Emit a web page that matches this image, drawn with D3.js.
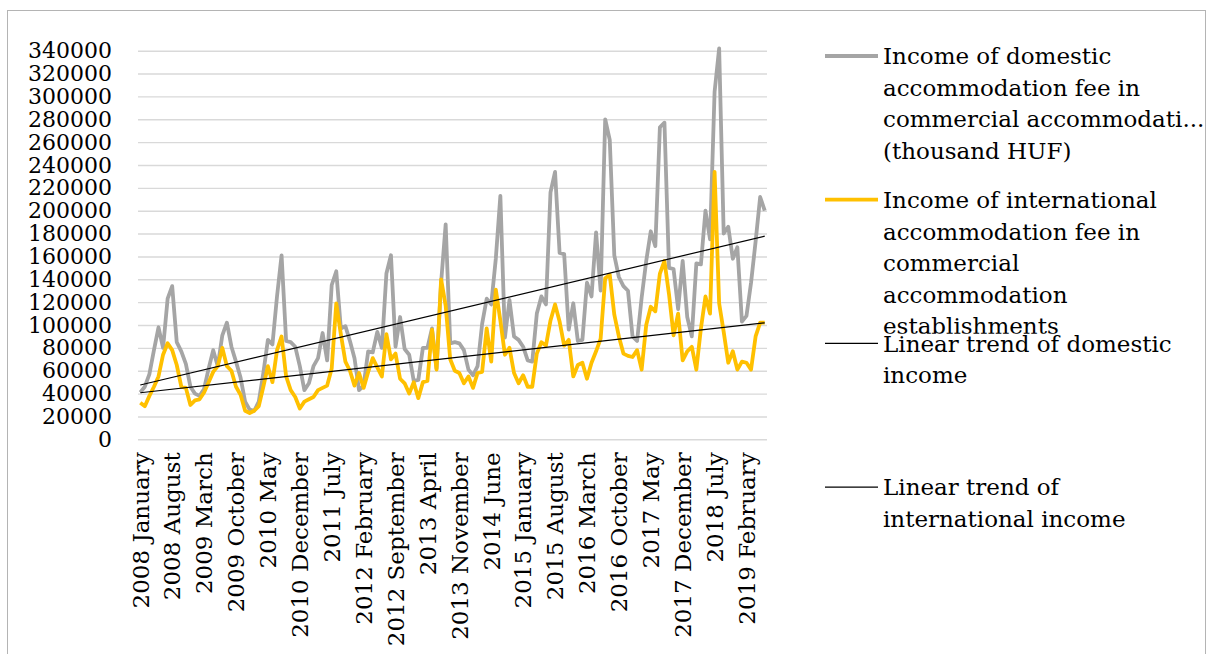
<!DOCTYPE html>
<html>
<head>
<meta charset="utf-8">
<script src="https://cdn.jsdelivr.net/npm/d3@7"></script>
<style>
  html, body { margin: 0; padding: 0; background: #ffffff; }
  svg { display: block; }
  text { font-family: "DejaVu Serif", serif; fill: #000; }
</style>
</head>
<body>
<svg id="chart" width="1214" height="654"></svg>
<script>
// ---- data -------------------------------------------------------------
const years = [2008, 2009, 2010, 2011, 2012, 2013, 2014, 2015, 2016, 2017, 2018, 2019];
const monthNames = ["January", "February", "March", "April", "May", "June",
                    "July", "August", "September", "October", "November", "December"];
const lastMonthCount = 6; // 2019 runs January..June

// monthly categories, "2008 January" .. "2019 June"
const categories = [];
years.forEach((yr, k) => {
  const n = k === years.length - 1 ? lastMonthCount : 12;
  for (let m = 0; m < n; m++) categories.push(yr + " " + monthNames[m]);
});

// Income of domestic accommodation fee (thousand HUF), one value per month
const domestic = [
  41000, 46000, 57000, 78000, 98000, 80000, 123000, 134000, 85000, 77000, 66000, 46000,      // 2008
  40000, 38000, 44000, 62000, 78000, 64000, 91000, 102000, 81000, 68000, 54000, 33000,       // 2009
  26000, 25000, 33000, 58000, 87000, 83000, 125000, 161000, 86000, 85000, 81000, 64000,      // 2010
  43000, 49000, 64000, 71000, 93000, 69000, 135000, 147000, 97000, 99000, 86000, 71000,      // 2011
  43000, 47000, 77000, 76000, 94000, 80000, 145000, 161000, 81000, 107000, 79000, 74000,     // 2012
  51000, 52000, 80000, 80000, 97000, 62000, 137000, 188000, 84000, 85000, 84000, 78000,      // 2013
  61000, 56000, 64000, 101000, 123000, 118000, 158000, 213000, 89000, 122000, 90000, 87000,  // 2014
  81000, 69000, 68000, 110000, 125000, 118000, 216000, 234000, 163000, 162000, 96000, 119000, // 2015
  86000, 87000, 137000, 125000, 181000, 130000, 280000, 262000, 161000, 142000, 134000, 130000, // 2016
  90000, 86000, 124000, 156000, 182000, 169000, 273000, 277000, 150000, 149000, 114000, 156000, // 2017
  107000, 90000, 154000, 153000, 200000, 175000, 304000, 342000, 180000, 186000, 158000, 168000, // 2018
  103000, 108000, 137000, 173000, 212000, 200000                                              // 2019
];

// Income of international accommodation fee (thousand HUF)
const international = [
  32000, 29000, 38000, 46000, 55000, 74000, 84000, 78000, 65000, 46000, 45000, 30000,        // 2008
  34000, 35000, 41000, 50000, 59000, 64000, 80000, 64000, 60000, 46000, 39000, 25000,        // 2009
  23000, 25000, 29000, 46000, 64000, 50000, 78000, 90000, 55000, 43000, 37000, 27000,        // 2010
  33000, 35000, 37000, 43000, 45000, 47000, 62000, 119000, 92000, 68000, 60000, 47000,       // 2011
  58000, 45000, 59000, 71000, 63000, 55000, 92000, 70000, 75000, 53000, 49000, 40000,        // 2012
  50000, 36000, 50000, 51000, 96000, 61000, 140000, 117000, 70000, 60000, 58000, 49000,      // 2013
  55000, 45000, 58000, 59000, 97000, 68000, 131000, 104000, 74000, 80000, 58000, 49000,      // 2014
  56000, 46000, 46000, 75000, 85000, 82000, 104000, 118000, 103000, 82000, 87000, 55000,     // 2015
  65000, 67000, 53000, 67000, 77000, 88000, 141000, 144000, 109000, 90000, 75000, 73000,     // 2016
  72000, 78000, 61000, 100000, 116000, 112000, 145000, 156000, 127000, 91000, 110000, 69000, // 2017
  77000, 81000, 61000, 97000, 125000, 110000, 234000, 119000, 94000, 67000, 77000, 61000,    // 2018
  68000, 67000, 61000, 90000, 102000, 102000                                                 // 2019
];

const yTicks = [0, 20000, 40000, 60000, 80000, 100000, 120000, 140000, 160000,
                180000, 200000, 220000, 240000, 260000, 280000, 300000, 320000, 340000];
const xTickStep = 7; // every 7th month is labelled

const legendItems = [
  { lines: ["Income of domestic", "accommodation fee in", "commercial accommodati...", "(thousand HUF)"],
    color: "#a5a5a5", width: 3.8 },
  { lines: ["Income of international", "accommodation fee in", "commercial", "accommodation", "establishments"],
    color: "#ffc000", width: 3.8 },
  { lines: ["Linear trend of domestic", "income"], color: "#000000", width: 1.2 },
  { lines: ["Linear trend of", "international income"], color: "#000000", width: 1.2 }
];

// ---- layout -----------------------------------------------------------
const FONT = '"DejaVu Serif", serif';
const FONT_SIZE = "23px";
const Y_FONT_SIZE = "22px";
const plot = { left: 138, right: 767, top: 50.7, bottom: 439.3 };
const svg = d3.select("#chart");

// outer chart border
svg.append("rect")
  .attr("x", 7.5).attr("y", 10.5)
  .attr("width", 1198).attr("height", 700)
  .attr("fill", "none").attr("stroke", "#b4b4b4").attr("stroke-width", 1);

const x = d3.scaleBand().domain(categories).range([plot.left, plot.right]);
const xc = c => x(c) + x.bandwidth() / 2;
const y = d3.scaleLinear().domain([0, 340000]).range([plot.bottom, plot.top]);

// horizontal gridlines
svg.append("g")
  .attr("transform", `translate(${plot.left},0)`)
  .call(d3.axisLeft(y).tickValues(yTicks).tickSize(-(plot.right - plot.left)).tickFormat(""))
  .call(g => g.select(".domain").remove())
  .call(g => g.selectAll("line").attr("stroke", "#d9d9d9").attr("stroke-width", 1.4));

// y axis labels
svg.append("g")
  .attr("transform", `translate(${plot.left},0)`)
  .call(d3.axisLeft(y).tickValues(yTicks).tickSize(0).tickPadding(26).tickFormat(d3.format("d")))
  .call(g => g.select(".domain").remove())
  .call(g => g.selectAll("text")
    .attr("fill", "#000").style("font-size", Y_FONT_SIZE).style("font-family", FONT));

// x axis labels, rotated
svg.append("g")
  .attr("transform", `translate(0,${plot.bottom})`)
  .call(d3.axisBottom(x).tickValues(categories.filter((d, i) => i % xTickStep === 0)).tickSize(0))
  .call(g => g.select(".domain").remove())
  .call(g => g.selectAll("text")
    .attr("fill", "#000")
    .style("font-size", FONT_SIZE).style("font-family", FONT)
    .attr("transform", "rotate(-90)")
    .attr("text-anchor", "end")
    .attr("x", -13).attr("y", 0).attr("dy", "0.36em"));

// series lines
const line = d3.line().x((d, i) => xc(categories[i])).y(d => y(d));
svg.append("path").datum(domestic)
  .attr("fill", "none").attr("stroke", "#a5a5a5").attr("stroke-width", 3.8)
  .attr("stroke-linejoin", "round").attr("d", line);
svg.append("path").datum(international)
  .attr("fill", "none").attr("stroke", "#ffc000").attr("stroke-width", 3.8)
  .attr("stroke-linejoin", "round").attr("d", line);

// least-squares linear trend over the month index
function trend(values) {
  const n = values.length;
  const mx = d3.mean(values, (d, i) => i);
  const my = d3.mean(values);
  let sxy = 0, sxx = 0;
  values.forEach((v, i) => { sxy += (i - mx) * (v - my); sxx += (i - mx) * (i - mx); });
  const b = sxy / sxx, a = my - b * mx;
  return [0, n - 1].map(i => ({ i, v: a + b * i }));
}
const trendLine = d3.line().x(d => xc(categories[d.i])).y(d => y(d.v));
[domestic, international].forEach(series => {
  svg.append("path").datum(trend(series))
    .attr("fill", "none").attr("stroke", "#000").attr("stroke-width", 1.2)
    .attr("d", trendLine);
});

// ---- legend -----------------------------------------------------------
// each entry owns a fixed-height slot; overflowing lines are clipped at the slot edge
const legend = { symX0: 825, symX1: 878, textX: 883, firstY: 56, slot: 143.7, lineH: 31.6 };
const defs = svg.append("defs");
legendItems.forEach((item, k) => {
  const cy = legend.firstY + k * legend.slot;
  const top = k === 2 ? cy - 9 : cy - 40;
  const bottom = k === 1 ? cy + 134 : cy + 200;
  defs.append("clipPath").attr("id", "lg" + k)
    .append("rect").attr("x", 800).attr("y", top).attr("width", 414).attr("height", bottom - top);
  const g = svg.append("g").attr("clip-path", `url(#lg${k})`);
  g.append("line")
    .attr("x1", legend.symX0).attr("x2", legend.symX1)
    .attr("y1", cy).attr("y2", cy)
    .attr("stroke", item.color).attr("stroke-width", item.width);
  g.selectAll("text").data(item.lines).join("text")
    .attr("x", legend.textX)
    .attr("y", (d, j) => cy + j * legend.lineH)
    .attr("dy", "0.36em")
    .style("font-size", FONT_SIZE)
    .text(d => d);
});
</script>
</body>
</html>
